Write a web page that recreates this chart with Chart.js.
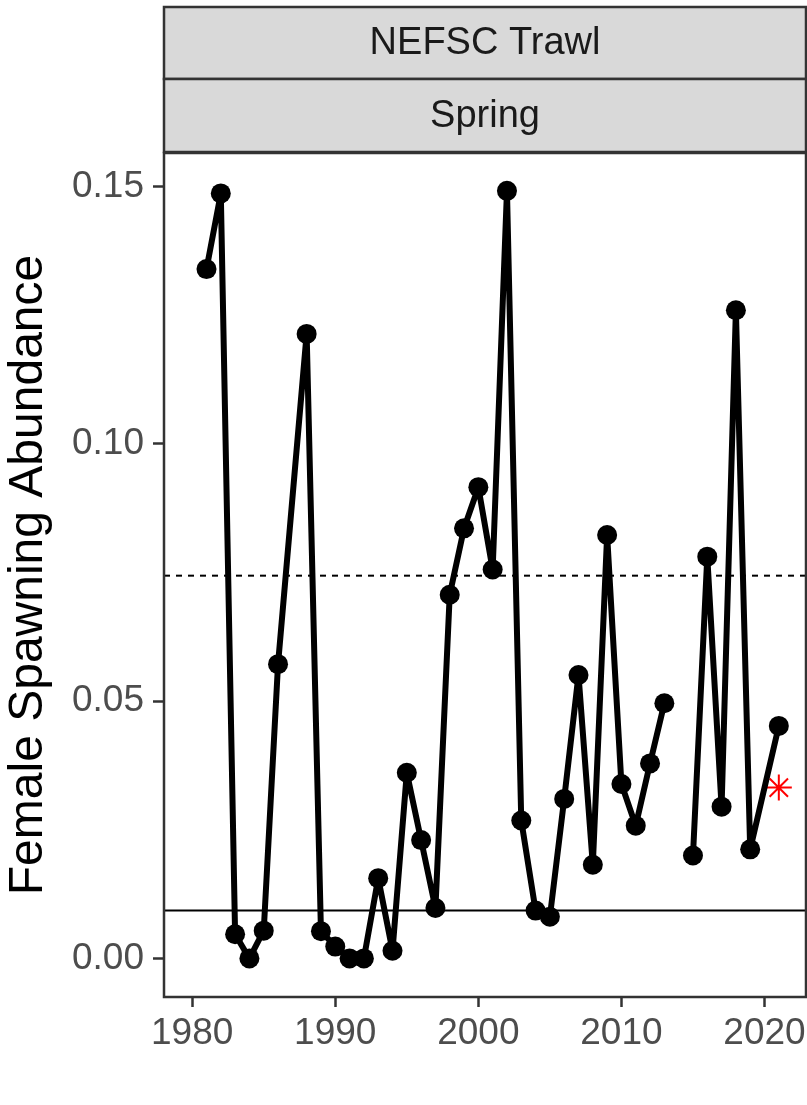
<!DOCTYPE html>
<html lang="en">
<head>
<meta charset="UTF-8">
<title>NEFSC Trawl - Spring</title>
<script src="https://cdn.jsdelivr.net/npm/chart.js"></script>
<style>
  html, body { margin: 0; padding: 0; background: #fff; }
  #wrap { width: 807px; height: 1105px; }
</style>
</head>
<body>
<div id="wrap"><canvas id="abundanceChart" width="807" height="1105"></canvas></div>
<script>
// survey years (1987 and 2020 not sampled, 2014 missing -> break in line)
const years = [1981, 1982, 1983, 1984, 1985, 1986, 1988, 1989, 1990, 1991,
               1992, 1993, 1994, 1995, 1996, 1997, 1998, 1999, 2000, 2001,
               2002, 2003, 2004, 2005, 2006, 2007, 2008, 2009, 2010, 2011,
               2012, 2013, 2014, 2015, 2016, 2017, 2018, 2019, 2021];
const abundance = [0.1340, 0.1487, 0.0047, 0.0000, 0.0054, 0.0572, 0.1214, 0.0053, 0.0023, 0.0000,
                   0.0000, 0.0156, 0.0015, 0.0361, 0.0230, 0.0098, 0.0707, 0.0836, 0.0916, 0.0756,
                   0.1492, 0.0268, 0.0093, 0.0081, 0.0310, 0.0551, 0.0182, 0.0823, 0.0339, 0.0258,
                   0.0379, 0.0496, null, 0.0200, 0.0781, 0.0295, 0.1260, 0.0212, 0.0452];

// reference levels
const upperRef = 0.0744;
const lowerRef = 0.0093;

// flagged value
const flagYear = [2021];
const flagValue = [0.0332];

const xTicks = [1980, 1990, 2000, 2010, 2020];
const yTicks = [0.00, 0.05, 0.10, 0.15];
const stripLabels = ['NEFSC Trawl', 'Spring'];

const xMin = 1978.03, xMax = 2022.9;
const yMin = -0.0075, yMax = 0.15656;

const FONT = '"Liberation Sans", Arial, Helvetica, sans-serif';

// facet strips on top + panel border
const facetPlugin = {
    id: 'facet',
    afterDraw(chart) {
        const ctx = chart.ctx;
        const a = chart.chartArea;
        ctx.save();
        const strips = [[7, 72], [79, 73]];
        strips.forEach((s, i) => {
            ctx.fillStyle = '#D9D9D9';
            ctx.fillRect(a.left, s[0], a.right - a.left, s[1]);
            ctx.strokeStyle = '#333333';
            ctx.lineWidth = 2.5;
            ctx.strokeRect(a.left, s[0], a.right - a.left, s[1]);
            ctx.fillStyle = '#1A1A1A';
            ctx.font = '38px ' + FONT;
            ctx.textAlign = 'center';
            ctx.textBaseline = 'middle';
            ctx.fillText(stripLabels[i], (a.left + a.right) / 2, s[0] + s[1] / 2 + 1);
        });
        ctx.strokeStyle = '#333333';
        ctx.lineWidth = 2.5;
        ctx.strokeRect(a.left, a.top, a.right - a.left, a.bottom - a.top);
        ctx.restore();
    }
};

const ctx = document.getElementById('abundanceChart').getContext('2d');
new Chart(ctx, {
    type: 'line',
    data: {
        datasets: [
            {
                data: years.map((x, i) => ({ x: x, y: abundance[i] })),
                borderColor: '#000000',
                backgroundColor: '#000000',
                borderWidth: 6,
                borderJoinStyle: 'round',
                borderCapStyle: 'round',
                pointRadius: 10,
                pointBackgroundColor: '#000000',
                pointBorderWidth: 0,
                spanGaps: false,
                tension: 0
            },
            {
                data: flagYear.map((x, i) => ({ x: x, y: flagValue[i] })),
                showLine: false,
                pointStyle: 'star',
                pointRadius: 13,
                borderColor: '#FF0000',
                pointBorderColor: '#FF0000',
                pointBorderWidth: 2
            },
            {
                data: [{ x: xMin, y: upperRef }, { x: xMax, y: upperRef }],
                borderColor: '#000000',
                borderWidth: 2,
                borderDash: [6, 6],
                pointRadius: 0
            },
            {
                data: [{ x: xMin, y: lowerRef }, { x: xMax, y: lowerRef }],
                borderColor: '#000000',
                borderWidth: 2,
                pointRadius: 0
            }
        ]
    },
    options: {
        responsive: false,
        animation: false,
        layout: {
            autoPadding: false,
            padding: { top: 153, right: 1, bottom: 0, left: 0 }
        },
        plugins: {
            legend: { display: false },
            tooltip: { enabled: false }
        },
        scales: {
            x: {
                type: 'linear',
                min: xMin,
                max: xMax,
                afterBuildTicks: s => { s.ticks = xTicks.map(v => ({ value: v })); },
                afterFit: s => {
                    s.height = 108;
                    s.paddingLeft = 0;
                    s.paddingRight = 0;
                },
                ticks: {
                    font: { size: 37, family: FONT },
                    color: '#4D4D4D',
                    padding: 5,
                    maxRotation: 0,
                    callback: v => String(v)
                },
                grid: {
                    drawOnChartArea: false,
                    tickLength: 10,
                    tickColor: '#333333',
                    tickWidth: 2.5
                },
                border: { display: false }
            },
            y: {
                min: yMin,
                max: yMax,
                afterBuildTicks: s => { s.ticks = yTicks.map(v => ({ value: v })); },
                afterFit: s => {
                    s.width = 164;
                    s.paddingTop = 0;
                    s.paddingBottom = 0;
                },
                ticks: {
                    font: { size: 37, family: FONT },
                    color: '#4D4D4D',
                    padding: 9,
                    callback: v => v.toFixed(2)
                },
                grid: {
                    drawOnChartArea: false,
                    tickLength: 11,
                    tickColor: '#333333',
                    tickWidth: 2.5
                },
                border: { display: false },
                title: {
                    display: true,
                    text: 'Female Spawning Abundance',
                    font: { size: 48, family: FONT },
                    color: '#000000',
                    padding: { top: 0, bottom: 0 }
                }
            }
        }
    },
    plugins: [facetPlugin]
});
</script>
</body>
</html>
